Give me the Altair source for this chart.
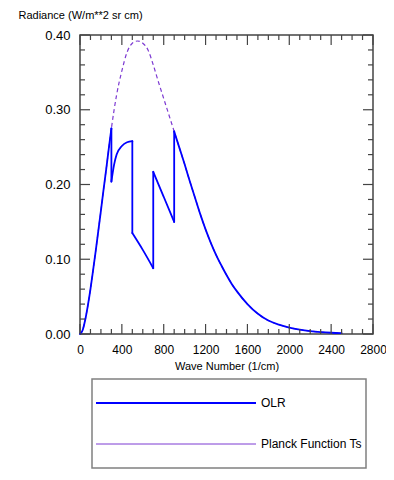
import altair as alt
import pandas as pd

# ---- data ----
planck_wn = [0, 25, 50, 75, 100, 125, 150, 175, 200, 225, 250, 275, 300, 350, 400, 450,
             500, 550, 600, 650, 700, 750, 800, 850, 900, 950, 1000, 1050, 1100, 1150,
             1200, 1250, 1300, 1350, 1400, 1450, 1500, 1600, 1700, 1800, 1900, 2000,
             2100, 2200, 2300, 2400, 2500]
planck_rad = [0.0, 0.005, 0.019, 0.038, 0.060, 0.085, 0.111, 0.138, 0.165, 0.193, 0.220,
              0.248, 0.275, 0.320, 0.352, 0.377, 0.389, 0.392, 0.389, 0.380, 0.360, 0.337,
              0.315, 0.293, 0.271, 0.249, 0.227, 0.204, 0.182, 0.160, 0.140, 0.122, 0.106,
              0.092, 0.079, 0.067, 0.057, 0.040, 0.027, 0.018, 0.0125, 0.0085, 0.0058,
              0.0039, 0.0026, 0.0017, 0.0011]

# OLR in the absorbing / window bands (elsewhere OLR equals the Planck curve)
band1_wn = [300, 325, 350, 400, 450, 500]
band1_rad = [0.204, 0.226, 0.240, 0.2515, 0.2565, 0.258]
band2_wn = [500, 600, 700]
band2_rad = [0.135, 0.1125, 0.088]
band3_wn = [700, 800, 900]
band3_rad = [0.217, 0.1835, 0.150]

series_names = ["OLR", "Planck Function Ts"]
x_major = [0, 400, 800, 1200, 1600, 2000, 2400, 2800]
x_minor = [v for v in range(0, 2801, 100) if v % 400 != 0]
y_major = [0.0, 0.1, 0.2, 0.3, 0.4]
y_minor = [round(0.02 * i, 2) for i in range(21) if i % 5 != 0]

# ---- build tables ----
planck_df = pd.DataFrame({"wn": planck_wn, "rad": planck_rad})

rows = []
def add(seg, wns, rads):
    for w, r in zip(wns, rads):
        rows.append({"seg": seg, "wn": w, "rad": r})

lowP = [(w, r) for w, r in zip(planck_wn, planck_rad) if w <= 300]
highP = [(w, r) for w, r in zip(planck_wn, planck_rad) if w >= 900]
add("a", [p[0] for p in lowP], [p[1] for p in lowP])
add("j1", [300, 300], [lowP[-1][1], band1_rad[0]])
add("b", band1_wn, band1_rad)
add("j2", [500, 500], [band1_rad[-1], band2_rad[0]])
add("c", band2_wn, band2_rad)
add("j3", [700, 700], [band2_rad[-1], band3_rad[0]])
add("d", band3_wn, band3_rad)
add("j4", [900, 900], [band3_rad[-1], highP[0][1]])
add("e", [p[0] for p in highP], [p[1] for p in highP])
olr_df = pd.DataFrame(rows)

W = 293
H = 299
FONT = "Liberation Sans"
FRAME = "#444444"
PURPLE = "#7d3ad2"
x_scale = alt.Scale(domain=[0, 2800], nice=False, zero=False)
y_scale = alt.Scale(domain=[0, 0.4], nice=False, zero=False)

planck = alt.Chart(planck_df).mark_line(
    color=PURPLE, strokeWidth=1.2, strokeDash=[4, 3], interpolate="monotone"
).encode(
    x=alt.X("wn:Q", scale=x_scale,
            axis=alt.Axis(values=x_major, format="d", title="Wave Number (1/cm)",
                          labelPadding=10, titlePadding=5, labelOverlap=False,
                          labelFlush=False, labelFontSize=12)),
    y=alt.Y("rad:Q", scale=y_scale,
            axis=alt.Axis(values=y_major, format=".2f", title="Radiance (W/m**2 sr cm)",
                          labelPadding=10, titleAngle=0, titleAlign="left",
                          labelOverlap=False, labelFlush=False,
                          titleBaseline="middle", titleX=-62, titleY=-20)),
)

olr = alt.Chart(olr_df).mark_line(
    color="#0000ff", strokeWidth=1.8, interpolate="monotone", strokeCap="round"
).encode(
    x=alt.X("wn:Q", scale=x_scale),
    y=alt.Y("rad:Q", scale=y_scale),
    detail="seg:N",
)

def xticks(vals, length):
    df = pd.DataFrame({"wn": vals})
    bot = alt.Chart(df).mark_rule(color=FRAME, strokeWidth=1.2).encode(
        x=alt.X("wn:Q", scale=x_scale), y=alt.value(H), y2=alt.value(H - length))
    top = alt.Chart(df).mark_rule(color=FRAME, strokeWidth=1.2).encode(
        x=alt.X("wn:Q", scale=x_scale), y=alt.value(0), y2=alt.value(length))
    return [bot, top]

def yticks(vals, length):
    df = pd.DataFrame({"rad": vals})
    left = alt.Chart(df).mark_rule(color=FRAME, strokeWidth=1.2).encode(
        y=alt.Y("rad:Q", scale=y_scale), x=alt.value(0), x2=alt.value(length))
    right = alt.Chart(df).mark_rule(color=FRAME, strokeWidth=1.2).encode(
        y=alt.Y("rad:Q", scale=y_scale), x=alt.value(W), x2=alt.value(W - length))
    return [left, right]

ticks = xticks(x_major, 10) + xticks(x_minor, 5) + yticks(y_major, 10) + yticks(y_minor, 5)

# ---- legend box (below the plot) ----
one = pd.DataFrame({"k": [0]})
box = alt.Chart(one).mark_rect(
    fillOpacity=0, stroke="#808080", strokeWidth=1.5
).encode(x=alt.value(12), x2=alt.value(286), y=alt.value(344), y2=alt.value(433))
leg_olr = alt.Chart(one).mark_rule(color="#0000ff", strokeWidth=2).encode(
    x=alt.value(16), x2=alt.value(176), y=alt.value(368))
leg_pl = alt.Chart(one).mark_rule(color=PURPLE, strokeWidth=1).encode(
    x=alt.value(16), x2=alt.value(176), y=alt.value(409))
txt_olr = alt.Chart(one).mark_text(
    align="left", baseline="middle", font=FONT, fontSize=12, color="black"
).encode(x=alt.value(181), y=alt.value(368), text=alt.value(series_names[0]))
txt_pl = alt.Chart(one).mark_text(
    align="left", baseline="middle", font=FONT, fontSize=12, color="black"
).encode(x=alt.value(181), y=alt.value(409), text=alt.value(series_names[1]))

chart = alt.layer(
    planck, olr, *ticks, box, leg_olr, leg_pl, txt_olr, txt_pl
).properties(
    width=W, height=H,
    padding={"left": 72, "top": 27, "right": 13, "bottom": 136},
    autosize=alt.AutoSizeParams(type="none"),
).configure_view(
    stroke=FRAME, strokeWidth=1.5
).configure_axis(
    domain=False, ticks=False, tickSize=0, grid=False,
    labelFont=FONT, labelFontSize=13, labelColor="black",
    titleFont=FONT, titleFontSize=11, titleFontWeight="normal", titleColor="black",
)

chart.save("out.html", embed_options={"renderer": "svg", "actions": False})
